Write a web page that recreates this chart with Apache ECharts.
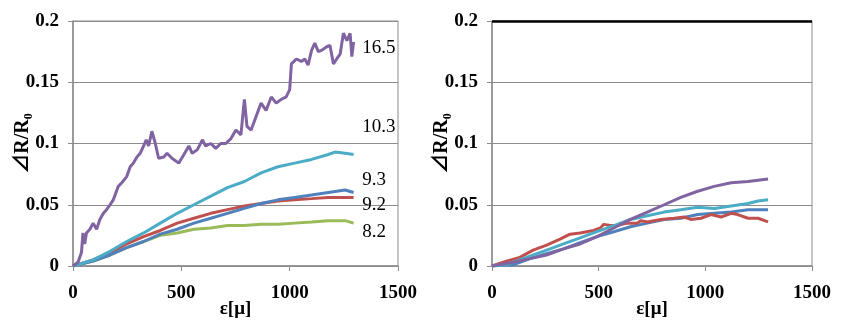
<!DOCTYPE html>
<html>
<head>
<meta charset="utf-8">
<script src="https://cdn.jsdelivr.net/npm/echarts@6/dist/echarts.min.js"></script>
<style>
html, body { margin: 0; padding: 0; background: #fff; }
#chart { width: 848px; height: 320px; }
</style>
</head>
<body>
<div id="chart"></div>
<script>
// 左图数据 (ε, ΔR/R0)
const leftPurple = [
    [0, 0], [23, 0.003], [39, 0.011], [46, 0.027], [54, 0.018], [62, 0.027], [78, 0.030],
    [93, 0.035], [109, 0.030], [124, 0.038], [140, 0.043], [155, 0.046], [171, 0.050],
    [186, 0.054], [209, 0.065], [225, 0.068], [248, 0.073], [264, 0.081], [279, 0.084],
    [295, 0.089], [310, 0.092], [326, 0.098], [338, 0.103], [349, 0.098], [364, 0.110],
    [380, 0.100], [395, 0.088], [419, 0.089], [434, 0.092], [457, 0.088], [488, 0.084],
    [512, 0.091], [535, 0.098], [550, 0.092], [574, 0.095], [597, 0.103], [612, 0.098],
    [636, 0.100], [659, 0.096], [682, 0.100], [705, 0.100], [729, 0.104], [752, 0.111],
    [775, 0.107], [791, 0.136], [803, 0.114], [822, 0.111], [845, 0.122], [868, 0.133],
    [891, 0.127], [915, 0.138], [938, 0.133], [961, 0.136], [984, 0.138], [1000, 0.144],
    [1008, 0.165], [1031, 0.169], [1054, 0.167], [1070, 0.169], [1085, 0.164], [1101, 0.176],
    [1116, 0.182], [1132, 0.175], [1147, 0.176], [1171, 0.179], [1186, 0.180], [1202, 0.165],
    [1217, 0.169], [1233, 0.173], [1248, 0.190], [1264, 0.184], [1279, 0.190], [1287, 0.171],
    [1295, 0.183]
];
const leftCyan = [
    [0, 0], [93, 0.005], [171, 0.012], [248, 0.020], [326, 0.027], [403, 0.035], [481, 0.043],
    [558, 0.050], [636, 0.057], [713, 0.064], [791, 0.069], [868, 0.076], [946, 0.081],
    [1023, 0.084], [1101, 0.087], [1178, 0.091], [1209, 0.093], [1256, 0.092], [1295, 0.091]
];
const leftBlue = [
    [0, 0], [93, 0.004], [171, 0.009], [248, 0.015], [326, 0.020], [403, 0.026], [481, 0.030],
    [558, 0.035], [636, 0.039], [713, 0.043], [791, 0.047], [868, 0.051], [946, 0.054],
    [1023, 0.056], [1101, 0.058], [1178, 0.060], [1256, 0.062], [1295, 0.060]
];
const leftRed = [
    [0, 0], [93, 0.005], [171, 0.011], [248, 0.018], [326, 0.024], [403, 0.029], [481, 0.035],
    [558, 0.039], [636, 0.043], [713, 0.046], [791, 0.049], [868, 0.051], [946, 0.053],
    [1023, 0.054], [1101, 0.055], [1178, 0.056], [1256, 0.056], [1295, 0.056]
];
const leftGreen = [
    [0, 0], [93, 0.004], [171, 0.009], [248, 0.015], [326, 0.020], [403, 0.025], [481, 0.027],
    [558, 0.030], [636, 0.031], [713, 0.033], [791, 0.033], [868, 0.034], [946, 0.034],
    [1023, 0.035], [1101, 0.036], [1178, 0.037], [1256, 0.037], [1295, 0.035]
];
// 左图标注
const leftNotes = [
    [1335, 0.178, "16.5"], [1335, 0.1136, "10.3"], [1335, 0.0705, "9.3"],
    [1335, 0.050, "9.2"], [1335, 0.028, "8.2"]
];

// 右图数据
const rightPurple = [
    [0, 0], [99, 0.003], [178, 0.006], [256, 0.009], [335, 0.014], [413, 0.018], [492, 0.024],
    [571, 0.031], [649, 0.038], [728, 0.044], [807, 0.050], [885, 0.056], [964, 0.061],
    [1042, 0.065], [1121, 0.068], [1200, 0.069], [1294, 0.071]
];
const rightCyan = [
    [0, 0], [68, 0.001], [178, 0.008], [256, 0.013], [335, 0.018], [413, 0.023], [492, 0.028],
    [571, 0.033], [649, 0.038], [728, 0.041], [807, 0.044], [885, 0.046], [964, 0.048],
    [1042, 0.047], [1121, 0.049], [1200, 0.051], [1247, 0.053], [1294, 0.054]
];
const rightBlue = [
    [0, 0], [99, 0.001], [178, 0.006], [256, 0.010], [335, 0.014], [413, 0.019], [492, 0.024],
    [571, 0.028], [649, 0.032], [728, 0.035], [807, 0.038], [885, 0.039], [964, 0.042],
    [1042, 0.043], [1121, 0.044], [1200, 0.046], [1294, 0.046]
];
const rightRed = [
    [0, 0], [68, 0.004], [130, 0.007], [193, 0.013], [256, 0.017], [319, 0.022], [366, 0.026],
    [413, 0.027], [476, 0.029], [508, 0.031], [524, 0.034], [555, 0.033], [586, 0.033],
    [633, 0.035], [681, 0.035], [697, 0.037], [728, 0.036], [791, 0.038], [854, 0.039],
    [901, 0.040], [932, 0.038], [980, 0.039], [1027, 0.042], [1074, 0.040], [1121, 0.043],
    [1152, 0.042], [1200, 0.039], [1247, 0.039], [1278, 0.037], [1294, 0.036]
];

const colors = {
    purple: "#8064A2",
    cyan: "#4BACC6",
    blue: "#4F81BD",
    red: "#C0504D",
    green: "#9BBB59"
};

const fontFamily = "'Liberation Serif', 'Times New Roman', serif";
const nameFont = "'Liberation Serif', 'Noto Sans CJK JP', serif";
const gray = "#8c8c8c";

const makeXAxis = gridIndex => ({
    gridIndex,
    type: "value",
    min: 0,
    max: 1500,
    interval: 500,
    name: "ε[μ]",
    nameLocation: "middle",
    nameGap: 34,
    nameMoveOverlap: false,
    nameTextStyle: { fontFamily, fontSize: 19, fontWeight: "bold", color: "#000" },
    axisLine: { show: true, lineStyle: { color: gray, width: 1.5 } },
    axisTick: { show: true, length: 5, lineStyle: { color: gray } },
    axisLabel: {
        fontFamily, fontSize: 19, fontWeight: "bold", color: "#000", margin: 18,
        formatter: v => String(v)
    },
    splitLine: { show: false }
});

const makeYAxis = gridIndex => ({
    gridIndex,
    type: "value",
    min: 0,
    max: 0.2,
    interval: 0.05,
    name: "⊿R/R₀",
    nameLocation: "middle",
    nameRotate: 90,
    nameGap: 40,
    nameMoveOverlap: false,
    nameTextStyle: { fontFamily: nameFont, fontSize: 20, fontWeight: "bold", color: "#000" },
    axisLine: { show: true, lineStyle: { color: gray, width: 1.5 } },
    axisTick: { show: true, length: 5, lineStyle: { color: gray } },
    axisLabel: { fontFamily, fontSize: 19, fontWeight: "bold", color: "#000", margin: 14 },
    splitLine: { show: true, lineStyle: { color: gray, width: 1 } }
});

const line = (data, color, gridIndex) => ({
    type: "line",
    xAxisIndex: gridIndex,
    yAxisIndex: gridIndex,
    data,
    showSymbol: false,
    symbol: "none",
    smooth: false,
    lineStyle: { color, width: 3 },
    silent: true,
    animation: false
});

const chart = echarts.init(document.getElementById("chart"));

const rightTop = line(rightPurple, colors.purple, 1);
// 右图顶部黑线
rightTop.markLine = {
    silent: true,
    symbol: "none",
    label: { show: false },
    lineStyle: { color: "#000", width: 2.5, type: "solid" },
    data: [{ yAxis: 0.2 }]
};

chart.setOption({
    animation: false,
    grid: [
        {
            left: 73, top: 21, width: 325, height: 245, show: true,
            borderColor: gray, borderWidth: 1, containLabel: false, outerBoundsMode: "none"
        },
        {
            left: 492, top: 21, width: 320, height: 245, show: true,
            borderColor: gray, borderWidth: 1, containLabel: false, outerBoundsMode: "none"
        }
    ],
    xAxis: [makeXAxis(0), makeXAxis(1)],
    yAxis: [makeYAxis(0), makeYAxis(1)],
    series: [
        line(leftGreen, colors.green, 0),
        line(leftRed, colors.red, 0),
        line(leftBlue, colors.blue, 0),
        line(leftCyan, colors.cyan, 0),
        line(leftPurple, colors.purple, 0),
        {
            type: "scatter",
            xAxisIndex: 0,
            yAxisIndex: 0,
            data: leftNotes,
            symbolSize: 0,
            silent: true,
            itemStyle: { opacity: 1 },
            label: {
                show: true,
                position: "right",
                distance: 0,
                formatter: p => p.data[2],
                fontFamily,
                fontSize: 19,
                color: "#000",
                opacity: 1
            }
        },
        line(rightBlue, colors.blue, 1),
        line(rightRed, colors.red, 1),
        line(rightCyan, colors.cyan, 1),
        rightTop
    ]
});
</script>
</body>
</html>
